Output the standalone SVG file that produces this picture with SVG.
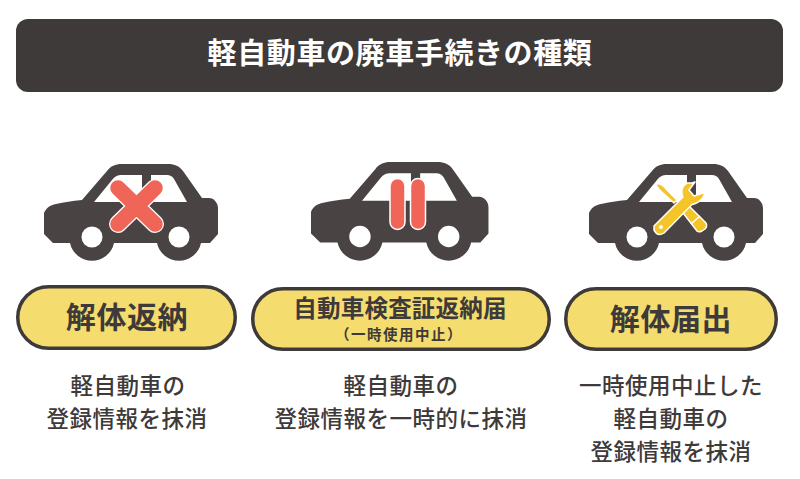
<svg xmlns="http://www.w3.org/2000/svg" width="800" height="479" viewBox="0 0 800 479">
<style>
text{font-family:"Noto Sans CJK JP","Noto Sans",sans-serif;text-anchor:middle;fill:#3e3a39}
.t{font-size:29px;font-weight:700;fill:#fff;letter-spacing:.6px}
.l{font-size:30px;font-weight:700;letter-spacing:.6px}
.m{font-size:23.500px;font-weight:700;letter-spacing:.2px}
.s{font-size:14.500px;font-weight:700;letter-spacing:1.500px}
.d{font-size:22.500px;font-weight:500;letter-spacing:.5px}
.p{fill:#f5dc6e;stroke:#3e3a39;stroke-width:3.500}
.w{stroke:#fff;stroke-linecap:round;fill:none}
.r{stroke:#ef6557;stroke-linecap:round;fill:none}
</style>
<defs>
<g id="car">
<path fill="#494443" d="M44 213C46 208 50 205 56 204C64 202 72 201 82 200L107 171C111 166 115 164 122 164H168C175 164 179 166 183 171L202 198H209C214 198 218 203 218 208V234L210 243H201A22.500 22.500 0 0 1 157 243H114A22.500 22.500 0 0 1 70 243H53L44 234Z"/>
<path fill="#fff" d="M94 202L112 180C115 176 118 175 122 175H142V202ZM151 175H167C170 175 172 176 174 179L187 202H151Z"/>
<circle cx="92" cy="237" r="10.500" fill="#fff"/>
<circle cx="179" cy="237" r="10.500" fill="#fff"/>
</g>
</defs>
<g id="title">
<rect x="16" y="19" width="767" height="73" rx="12" fill="#3e3a39"/>
<text class="t" x="400" y="64">軽自動車の廃車手続きの種類</text>
</g>
<g id="node-kaitai">
<use href="#car"/>
<path class="w" stroke-width="18" d="M118 188L155 224M155 188L118 224"/>
<path class="r" stroke-width="15.500" d="M118 188L155 224M155 188L118 224"/>
<rect class="p" x="17.750" y="286.750" width="217.500" height="61.500" rx="30.750"/>
<text class="l" x="127" y="328">解体返納</text>
<text class="d" x="128" y="394">軽自動車の</text>
<text class="d" x="127" y="427">登録情報を抹消</text>
</g>
<g id="node-kensa">
<use href="#car" transform="translate(311 162) scale(1.020) translate(-44 -164)"/>
<rect x="390" y="178.500" width="15" height="51" rx="7.500" fill="#ef6557" stroke="#fff" stroke-width="1.500"/>
<rect x="410.500" y="178.500" width="15" height="51" rx="7.500" fill="#ef6557" stroke="#fff" stroke-width="1.500"/>
<rect class="p" x="252.750" y="288.750" width="296.500" height="60.500" rx="30.250"/>
<text class="m" x="400" y="317">自動車検査証返納届</text>
<text class="s" x="399" y="340">（一時使用中止）</text>
<text class="d" x="401" y="394">軽自動車の</text>
<text class="d" x="401" y="427">登録情報を一時的に抹消</text>
</g>
<g id="node-todoke">
<use href="#car" transform="translate(545 0)"/>
<path fill="#f5c428" stroke="#fff" stroke-width="1.500" stroke-linejoin="round" d="M656 184C660 183 664 186 667 190L677 200L674 203L664 194C660 191 657 188 656 184ZM680 209L686 203L706 223C707 225 707 227 705 229L702 231C700 232 698 232 697 231Z"/>
<path fill="none" stroke="#fff" stroke-width="1.500" d="M691 224L700 216"/>
<path fill="#f5c428" stroke="#fff" stroke-width="1.500" stroke-linejoin="round" d="M654 226L683 197C680 190 683 185 687 183L692 183L695 182L689 190L694 196L703 193L705 190C705 197 700 203 692 204.500L664 233C661 235 658 235 656 233L654 230Z"/>
<circle cx="661" cy="227" r="2" fill="#fff"/>
<rect class="p" x="565.750" y="288.750" width="210.500" height="60.500" rx="30.250"/>
<text class="l" x="671" y="330">解体届出</text>
<text class="d" x="671" y="394">一時使用中止した</text>
<text class="d" x="671" y="427">軽自動車の</text>
<text class="d" x="671" y="460">登録情報を抹消</text>
</g>
</svg>
